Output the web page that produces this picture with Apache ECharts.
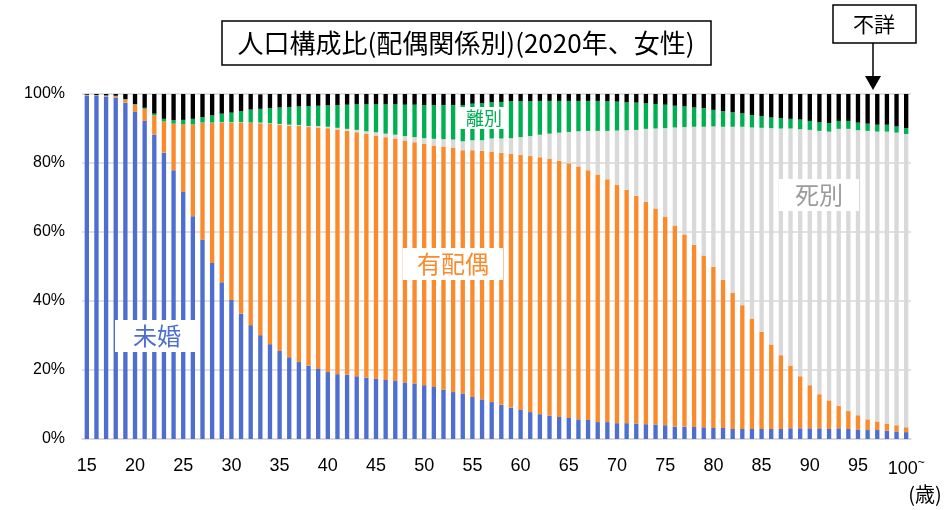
<!DOCTYPE html>
<html>
<head>
<meta charset="utf-8">
<script src="https://cdn.jsdelivr.net/npm/echarts@6.0.0/dist/echarts.min.js"></script>
<style>
  html, body { margin: 0; padding: 0; background: #fff; }
  #chart { width: 945px; height: 510px; }
</style>
</head>
<body>
<div id="chart"></div>
<script>
// 年齢 (15歳〜100歳以上)
const ages = ['15', '16', '17', '18', '19', '20', '21', '22', '23', '24',
  '25', '26', '27', '28', '29', '30', '31', '32', '33', '34',
  '35', '36', '37', '38', '39', '40', '41', '42', '43', '44',
  '45', '46', '47', '48', '49', '50', '51', '52', '53', '54',
  '55', '56', '57', '58', '59', '60', '61', '62', '63', '64',
  '65', '66', '67', '68', '69', '70', '71', '72', '73', '74',
  '75', '76', '77', '78', '79', '80', '81', '82', '83', '84',
  '85', '86', '87', '88', '89', '90', '91', '92', '93', '94',
  '95', '96', '97', '98', '99', '100']

// 構成比 (%)
const mikon = [99.6, 99.5, 99.3, 99.0, 97.5, 94.8, 92.2, 88.2, 83.0, 77.9,
  71.6, 64.6, 57.8, 51.0, 45.4, 40.3, 36.3, 33.0, 30.1, 27.5,
  25.5, 23.7, 22.3, 21.2, 20.3, 19.4, 18.8, 18.6, 18.2, 17.8,
  17.5, 17.1, 16.8, 16.4, 16.1, 15.6, 15.1, 14.3, 13.6, 13.2,
  12.2, 11.5, 10.7, 9.9, 9.1, 8.4, 7.8, 7.2, 6.8, 6.4,
  6.1, 5.7, 5.5, 4.9, 4.9, 4.6, 4.6, 4.5, 4.3, 4.2,
  4.0, 3.6, 3.6, 3.5, 3.4, 3.2, 3.2, 2.9, 2.9, 2.9,
  2.9, 2.9, 2.9, 3.1, 3.1, 3.1, 3.1, 2.9, 3.1, 2.9,
  2.8, 2.6, 2.6, 2.4, 2.2, 2.0]
const haiguu = [0.1, 0.1, 0.2, 0.4, 0.9, 2.1, 3.5, 5.6, 9.0, 13.5,
  19.6, 26.6, 33.8, 40.6, 46.3, 51.4, 55.4, 58.6, 61.4, 63.8,
  65.6, 67.1, 68.4, 69.2, 70.0, 70.7, 70.9, 70.7, 70.7, 70.6,
  70.5, 70.4, 70.3, 70.1, 69.9, 69.9, 70.0, 70.5, 70.9, 70.5,
  71.5, 72.0, 72.6, 73.1, 73.5, 73.9, 74.2, 74.5, 74.4, 74.2,
  73.8, 73.3, 72.4, 71.8, 70.4, 69.0, 67.6, 66.0, 64.4, 62.6,
  60.5, 58.3, 55.7, 52.8, 49.8, 46.7, 42.9, 39.4, 35.9, 31.9,
  28.2, 24.5, 21.4, 18.2, 15.1, 12.5, 9.9, 8.3, 6.5, 5.2,
  4.1, 3.1, 2.5, 2.1, 1.8, 1.4]
const shibetsu = [0, 0, 0, 0, 0, 0, 0, 0, 0, 0,
  0, 0, 0.1, 0.1, 0.1, 0.1, 0.1, 0.1, 0.2, 0.2,
  0.2, 0.3, 0.3, 0.3, 0.4, 0.4, 0.5, 0.6, 0.7, 0.8,
  0.9, 1.0, 1.1, 1.3, 1.5, 1.7, 1.9, 2.1, 2.3, 2.6,
  2.9, 3.1, 3.8, 4.1, 4.6, 5.2, 5.8, 6.5, 7.3, 8.2,
  9.1, 10.2, 11.4, 12.6, 14.0, 15.8, 17.3, 19.1, 21.2, 23.2,
  25.6, 28.4, 31.1, 34.2, 37.3, 40.7, 44.4, 48.2, 51.7, 55.5,
  59.1, 62.7, 65.7, 68.7, 71.6, 74.0, 76.3, 77.9, 80.3, 81.8,
  82.6, 83.6, 84.0, 84.6, 84.8, 85.0]
const ribetsu = [0.1, 0.1, 0.1, 0.1, 0.1, 0.2, 0.3, 0.5, 0.8, 1.0,
  1.3, 1.6, 1.6, 2.1, 2.5, 2.8, 3.2, 3.8, 4.0, 4.4,
  4.8, 5.1, 5.4, 5.8, 5.9, 6.2, 6.6, 7.0, 7.4, 7.8,
  8.1, 8.5, 8.8, 9.1, 9.4, 9.6, 9.8, 9.9, 10.0, 10.5,
  10.6, 10.7, 10.5, 10.6, 10.7, 10.4, 10.1, 9.8, 9.5, 9.2,
  9.0, 8.8, 8.7, 8.7, 8.6, 8.4, 8.1, 7.9, 7.4, 7.1,
  6.8, 6.3, 6.0, 5.6, 5.4, 4.8, 4.5, 4.2, 3.9, 3.6,
  3.4, 3.1, 3.0, 2.8, 2.8, 2.6, 2.5, 2.5, 2.3, 2.3,
  2.2, 2.1, 2.0, 2.0, 1.8, 1.7]
const fushou = [0.2, 0.3, 0.4, 0.5, 1.5, 2.9, 4.0, 5.7, 7.2, 7.6,
  7.5, 7.2, 6.7, 6.2, 5.7, 5.4, 5.0, 4.5, 4.2, 4.1,
  3.9, 3.8, 3.6, 3.5, 3.4, 3.3, 3.2, 3.1, 3.0, 3.0,
  3.0, 3.0, 3.0, 3.1, 3.1, 3.2, 3.2, 3.2, 3.2, 3.2,
  2.8, 2.7, 2.4, 2.3, 2.1, 2.1, 2.1, 2.0, 2.0, 2.0,
  2.0, 2.0, 2.0, 2.0, 2.1, 2.2, 2.4, 2.5, 2.7, 2.9,
  3.1, 3.4, 3.6, 3.9, 4.1, 4.6, 5.0, 5.3, 5.6, 6.1,
  6.4, 6.8, 7.0, 7.2, 7.4, 7.8, 8.2, 8.4, 7.8, 7.8,
  8.3, 8.6, 8.9, 8.9, 9.4, 9.9]

const yTicks = [0, 20, 40, 60, 80, 100]

const chart = echarts.init(document.getElementById('chart'), null, { renderer: 'canvas' })

function barSeries(name, data, color) {
  return {
    name: name,
    type: 'bar',
    stack: 'total',
    data: data,
    barWidth: '45%',
    itemStyle: { color: color },
    emphasis: { disabled: true }
  }
}

function labelBox(x, y, text, color, size, padding) {
  return {
    type: 'text',
    left: x,
    top: y,
    z: 100,
    style: {
      text: text,
      fill: color,
      font: size + 'px "Noto Sans CJK JP"',
      backgroundColor: '#fff',
      padding: padding
    }
  }
}

const option = {
  animation: false,
  grid: { left: 82, right: 34, top: 94, bottom: 71 },
  xAxis: {
    type: 'category',
    data: ages,
    axisLine: { show: true, lineStyle: { color: '#d9d9d9', width: 1.5 } },
    axisTick: { show: false },
    axisLabel: {
      interval: 4,
      margin: 18,
      color: '#000',
      fontSize: 18,
      fontFamily: 'Liberation Sans Narrow, Liberation Sans, Arial',
      formatter: function (v) {
        return v === '100' ? '{n|100}{t|~}' : '{n|' + v + '}'
      },
      rich: {
        n: { fontSize: 18, fontFamily: 'Liberation Sans Narrow, Liberation Sans, Arial', color: '#000' },
        t: { fontSize: 12, color: '#000', padding: [0, 0, 12, 0] }
      }
    }
  },
  yAxis: {
    type: 'value',
    min: 0,
    max: 100,
    interval: 20,
    axisLine: { show: false },
    axisTick: { show: false },
    splitLine: { lineStyle: { color: '#d9d9d9', width: 1.5 } },
    axisLabel: {
      margin: 17,
      color: '#000',
      fontSize: 16,
      fontFamily: 'Liberation Sans, Arial',
      formatter: function (v) {
        return yTicks.indexOf(v) >= 0 ? v + '%' : ''
      }
    }
  },
  series: [
    barSeries('未婚', mikon, '#4f6fd0'),
    barSeries('有配偶', haiguu, '#fb8a2c'),
    barSeries('死別', shibetsu, '#d9d9d9'),
    barSeries('離別', ribetsu, '#00b050'),
    barSeries('不詳', fushou, '#000000')
  ],
  graphic: [
    // タイトル
    {
      type: 'rect',
      shape: { x: 222, y: 21, width: 489, height: 44 },
      style: { fill: '#fff', stroke: '#000', lineWidth: 1.5 }
    },
    {
      type: 'text',
      x: 466,
      y: 43,
      style: {
        text: '人口構成比(配偶関係別)(2020年、女性)',
        fill: '#000',
        font: '26px "Noto Sans CJK JP"',
        align: 'center',
        verticalAlign: 'middle'
      }
    },
    // 不詳 の矢印
    {
      type: 'rect',
      shape: { x: 833, y: 5, width: 83, height: 38 },
      style: { fill: '#fff', stroke: '#000', lineWidth: 1.5 }
    },
    {
      type: 'text',
      x: 874,
      y: 24,
      style: {
        text: '不詳',
        fill: '#000',
        font: '21px "Noto Sans CJK JP"',
        align: 'center',
        verticalAlign: 'middle'
      }
    },
    {
      type: 'line',
      shape: { x1: 873, y1: 43, x2: 873, y2: 78 },
      style: { stroke: '#000', lineWidth: 1.5 }
    },
    {
      type: 'polygon',
      shape: { points: [[865, 76], [881, 76], [873, 90]] },
      style: { fill: '#000' }
    },
    // 系列ラベル
    labelBox(115, 320, '未婚', '#4f6fd0', 24, [4, 18, 4, 18]),
    labelBox(403, 248, '有配偶', '#fb8a2c', 24, [4, 14, 4, 14]),
    labelBox(460, 107, '離別', '#00b050', 18, [2, 6, 2, 6]),
    labelBox(779, 179, '死別', '#9a9a9a', 24, [4, 16, 4, 16]),
    // 単位
    {
      type: 'text',
      x: 925,
      y: 494,
      style: {
        text: '(歳)',
        fill: '#000',
        font: '20px "Noto Sans CJK JP"',
        align: 'center',
        verticalAlign: 'middle'
      }
    }
  ]
}

chart.setOption(option)
</script>
</body>
</html>
